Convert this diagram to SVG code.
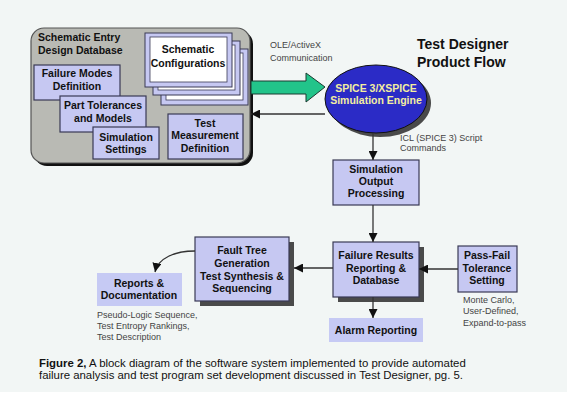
<svg xmlns="http://www.w3.org/2000/svg" width="576" height="407" viewBox="0 0 576 407">
<style>
.b{font-family:"Liberation Sans",Arial,sans-serif;font-weight:bold;font-size:10.5px;fill:#111;text-anchor:middle}
.n{font-family:"Liberation Sans",Arial,sans-serif;font-size:9px;fill:#444}
.box{fill:#c6c8f2;stroke:#3a3a55;stroke-width:1.2}
.flat{fill:#c6caf4}
.sh{fill:#4a4a4a}
.ln{stroke:#333;stroke-width:1.3;fill:none}
</style>
<defs>
<marker id="ah" viewBox="0 0 10 10" refX="10" refY="5" markerWidth="9" markerHeight="9" markerUnits="userSpaceOnUse" orient="auto">
<path d="M0,0 L10,5 L0,10 Z" fill="#111"/>
</marker>
</defs>
<rect x="0" y="0" width="567" height="392" fill="#f2f6f5"/>

<g id="database">
<rect x="34" y="31" width="219" height="135" rx="13" fill="#111"/>
<rect x="31" y="28" width="219" height="135" rx="13" fill="#b9bab4" stroke="#555" stroke-width="1.2"/>
<text class="b" x="38" y="41" style="text-anchor:start">Schematic Entry</text>
<text class="b" x="38" y="54" style="text-anchor:start">Design Database</text>
</g>

<g id="schematic-configurations">
<rect x="161" y="49" width="87" height="56" fill="#c6c8f2" stroke="#3a3a55"/>
<rect x="166" y="53" width="77" height="47" fill="#fff" stroke="#3a3a55" stroke-width="0.8"/>
<rect x="153" y="41" width="87" height="54" fill="#c6c8f2" stroke="#3a3a55"/>
<rect x="158" y="45" width="77" height="45" fill="#fff" stroke="#3a3a55" stroke-width="0.8"/>
<rect x="145" y="33" width="87" height="54" fill="#c6c8f2" stroke="#3a3a55"/>
<rect x="150" y="37" width="77" height="45" fill="#fff" stroke="#3a3a55" stroke-width="0.8"/>
<text class="b" x="188" y="53">Schematic</text>
<text class="b" x="188" y="67">Configurations</text>
</g>

<g id="failure-modes">
<rect class="box" x="34" y="65" width="86" height="35"/>
<text class="b" x="77" y="77">Failure Modes</text>
<text class="b" x="77" y="90">Definition</text>
</g>
<g id="part-tolerances">
<rect class="box" x="60" y="96" width="86" height="36"/>
<text class="b" x="103" y="109">Part Tolerances</text>
<text class="b" x="103" y="122">and Models</text>
</g>
<g id="simulation-settings">
<rect class="box" x="93" y="127" width="66" height="32"/>
<text class="b" x="126" y="141">Simulation</text>
<text class="b" x="126" y="153">Settings</text>
</g>
<g id="test-measurement">
<rect class="box" x="168" y="114" width="75" height="45"/>
<text class="b" x="205" y="127">Test</text>
<text class="b" x="205" y="139">Measurement</text>
<text class="b" x="205" y="152">Definition</text>
</g>

<g id="title">
<text x="417" y="49" style="font-family:'Liberation Sans',Arial,sans-serif;font-weight:bold;font-size:14px;fill:#111">Test Designer</text>
<text x="417" y="67" style="font-family:'Liberation Sans',Arial,sans-serif;font-weight:bold;font-size:14px;fill:#111">Product Flow</text>
</g>

<g id="spice-engine">
<ellipse cx="380" cy="103" rx="51" ry="34" fill="#4a4a4a"/>
<ellipse cx="376" cy="99" rx="51" ry="34" fill="#2b2bc6" stroke="#111" stroke-width="1"/>
<text class="b" x="376" y="92" style="fill:#f3eea0">SPICE 3/XSPICE</text>
<text class="b" x="376" y="104" style="fill:#f3eea0">Simulation Engine</text>
</g>

<g id="sim-output">
<rect class="box" x="333" y="160" width="86" height="45"/>
<text class="b" x="376" y="173">Simulation</text>
<text class="b" x="376" y="185">Output</text>
<text class="b" x="376" y="197">Processing</text>
</g>

<g id="failure-results">
<rect class="sh" x="338" y="247" width="86" height="55"/>
<rect class="box" x="333" y="242" width="86" height="55"/>
<text class="b" x="376" y="259">Failure Results</text>
<text class="b" x="376" y="272">Reporting &amp;</text>
<text class="b" x="376" y="284">Database</text>
</g>

<g id="pass-fail">
<rect class="box" x="458" y="246" width="59" height="46"/>
<text class="b" x="487" y="259">Pass-Fail</text>
<text class="b" x="487" y="272">Tolerance</text>
<text class="b" x="487" y="284">Setting</text>
<text class="n" x="463" y="303">Monte Carlo,</text>
<text class="n" x="463" y="314">User-Defined,</text>
<text class="n" x="463" y="326">Expand-to-pass</text>
</g>

<g id="alarm">
<rect class="flat" x="329" y="318" width="94" height="24"/>
<text class="b" x="376" y="334">Alarm Reporting</text>
</g>

<g id="fault-tree">
<rect class="sh" x="200" y="242" width="94" height="64"/>
<rect class="box" x="195" y="237" width="94" height="64"/>
<text class="b" x="242" y="254">Fault Tree</text>
<text class="b" x="242" y="267">Generation</text>
<text class="b" x="242" y="280">Test Synthesis &amp;</text>
<text class="b" x="242" y="292">Sequencing</text>
</g>

<g id="reports">
<rect class="flat" x="97" y="273" width="85" height="33"/>
<text class="b" x="139" y="287">Reports &amp;</text>
<text class="b" x="139" y="299">Documentation</text>
<text class="n" x="97" y="318">Pseudo-Logic Sequence,</text>
<text class="n" x="97" y="329">Test Entropy Rankings,</text>
<text class="n" x="97" y="340">Test Description</text>
</g>

<g id="connectors">
<path d="M251,81 L306,81 L306,73 L325,87 L306,102 L306,94 L251,94 Z" fill="#22c48a" stroke="#1a3a30" stroke-width="1"/>
<line class="ln" x1="325" y1="114" x2="251" y2="114" marker-end="url(#ah)"/>
<line class="ln" x1="373" y1="133" x2="373" y2="160" marker-end="url(#ah)"/>
<line class="ln" x1="373" y1="205" x2="373" y2="242" marker-end="url(#ah)"/>
<line class="ln" x1="458" y1="269" x2="419" y2="269" marker-end="url(#ah)"/>
<line class="ln" x1="333" y1="268" x2="294" y2="268" marker-end="url(#ah)"/>
<line class="ln" x1="373" y1="297" x2="373" y2="318" marker-end="url(#ah)"/>
<path class="ln" d="M195,251 C175,251 158,258 155,272" marker-end="url(#ah)"/>
<text class="n" x="270" y="48">OLE/ActiveX</text>
<text class="n" x="270" y="61">Communication</text>
<text class="n" x="400" y="141">ICL (SPICE 3) Script</text>
<text class="n" x="400" y="151">Commands</text>
</g>

<g id="caption" style="font-family:'Liberation Sans',Arial,sans-serif;font-size:11.4px;fill:#111">
<text x="39" y="367"><tspan font-weight="bold">Figure 2,</tspan> A block diagram of the software system implemented to provide automated</text>
<text x="39" y="379">failure analysis and test program set development discussed in Test Designer, pg. 5.</text>
</g>
</svg>
